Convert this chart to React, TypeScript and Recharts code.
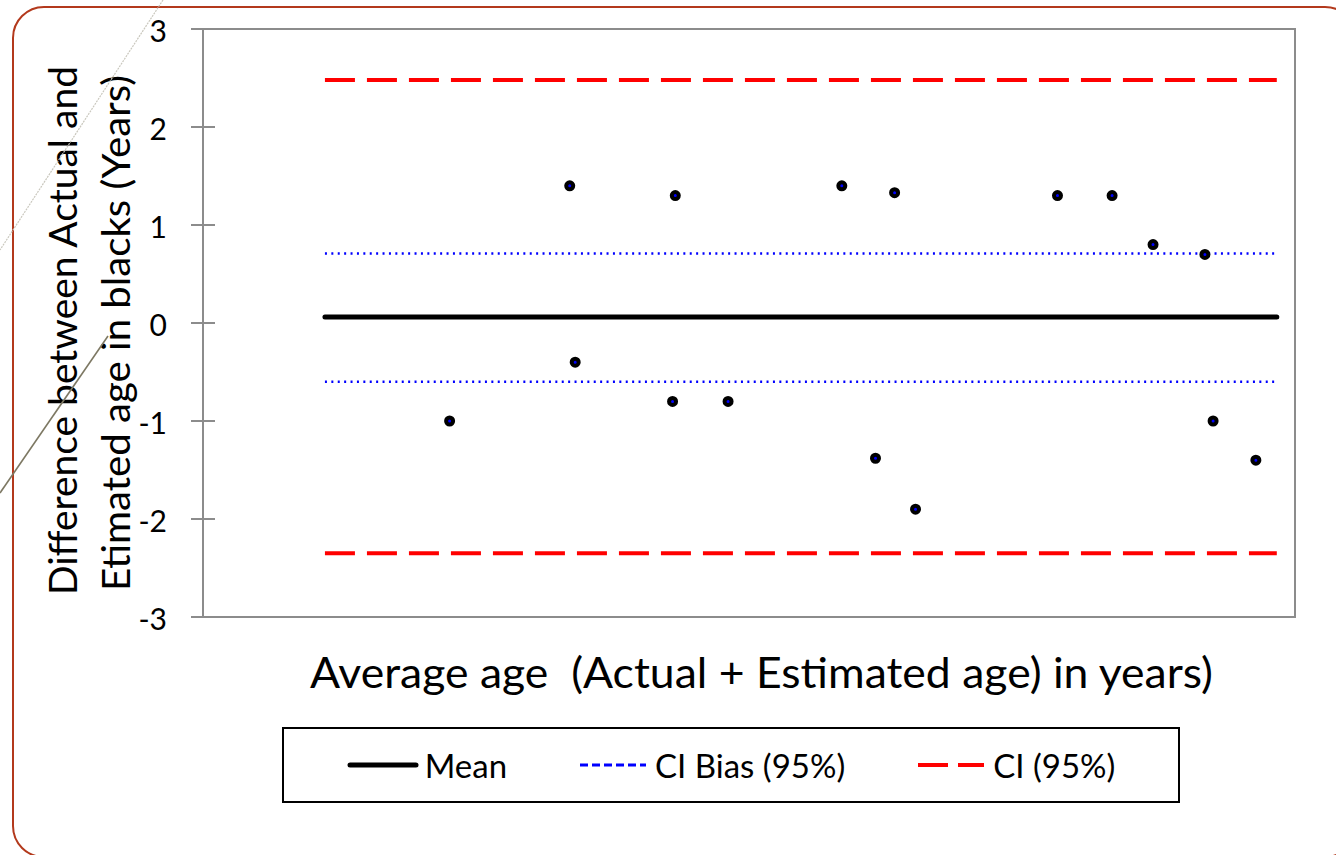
import React from 'react';
import { ComposedChart, Line, Scatter, XAxis, YAxis, Legend, ReferenceArea } from 'recharts';

// average age (x) and difference actual - estimated (y), one entry per subject
const avgAge = [10.71, 12.03, 12.09, 13.19, 13.16, 13.77, 15.02, 15.39, 15.6, 15.83, 17.39, 17.99, 18.44, 19.01, 19.1, 19.57];
const diffAge = [-1.0, 1.4, -0.4, 1.3, -0.8, -0.8, 1.4, -1.38, 1.33, -1.9, 1.3, 1.3, 0.8, 0.7, -1.0, -1.4];

const yTicks = [-3, -2, -1, 0, 1, 2, 3];
const xDomain = [8, 20];
const lineRange = [9.34, 19.8];
const meanDiff = [0.06];
const biasLimits = [0.71, -0.6];
const ciLimits = [2.48, -2.35];

const FONT = 'Lato, "Open Sans", sans-serif';
const AXIS_GRAY = '#8c8c8c';

const points = avgAge.map((x, i) => ({ x, y: diffAge[i] }));

// horizontal levels drawn between lineRange, broken by a null row
function levelRows(levels: number[]) {
  const rows: { x: number; y: number | null }[] = [];
  levels.forEach((lv, i) => {
    if (i > 0) rows.push({ x: lineRange[1], y: null });
    rows.push({ x: lineRange[0], y: lv }, { x: lineRange[1], y: lv });
  });
  return rows;
}

const legendOrder = ['Mean', 'CI Bias (95%)', 'CI (95%)'];
const legendSamples: Record<string, { stroke: string; width: number; dash?: string; cap?: 'round' | 'butt' }> = {
  Mean: { stroke: '#000', width: 5, cap: 'round' },
  'CI Bias (95%)': { stroke: '#0000ff', width: 3, dash: '8 4' },
  'CI (95%)': { stroke: '#ff0000', width: 4, dash: '30 10' },
};

function YTick(props: any) {
  const { x, y, payload } = props;
  const ax = x + 12;
  return (
    <g>
      <line x1={ax - 12} x2={ax + 12} y1={y} y2={y} stroke={AXIS_GRAY} strokeWidth={2} />
      <text x={ax - 36} y={y + 1} textAnchor="end" dominantBaseline="central" fontSize={30} fill="#000" fontFamily={FONT}>
        {payload.value}
      </text>
    </g>
  );
}

function Dot(props: any) {
  const { cx, cy } = props;
  return <circle cx={cx} cy={cy} r={3.5} fill="#0000ff" stroke="#000" strokeWidth={4} />;
}

function YTitle() {
  return (
    <g fontFamily={FONT} fontSize={38} fill="#000">
      <text transform="translate(77, 330.5) rotate(-90)" textAnchor="middle" textLength={529} lengthAdjust="spacingAndGlyphs">
        Difference between Actual and
      </text>
      <text transform="translate(130, 333) rotate(-90)" textAnchor="middle" textLength={516} lengthAdjust="spacingAndGlyphs">
        Etimated age in blacks (Years)
      </text>
    </g>
  );
}

function XTitle() {
  return (
    <text x={761.5} y={688} textAnchor="middle" fontFamily={FONT} fontSize={43} fill="#000" textLength={903} lengthAdjust="spacingAndGlyphs">
      {'Average age\u00a0 (Actual + Estimated age) in years)'}
    </text>
  );
}

function LegendBox(props: any) {
  const items = (props.payload || [])
    .filter((p: any) => legendSamples[p.value])
    .sort((a: any, b: any) => legendOrder.indexOf(a.value) - legendOrder.indexOf(b.value));
  return (
    <div
      style={{
        boxSizing: 'border-box',
        width: 898,
        height: 76,
        border: '2px solid #000',
        display: 'flex',
        alignItems: 'center',
        justifyContent: 'center',
        gap: 70,
        fontFamily: FONT,
        fontSize: 33,
        color: '#000',
      }}
    >
      {items.map((p: any) => {
        const s = legendSamples[p.value];
        return (
          <div key={p.value} style={{ display: 'flex', alignItems: 'center' }}>
            <svg width={72} height={12} style={{ marginRight: 6 }}>
              <line x1={3} x2={69} y1={6} y2={6} stroke={s.stroke} strokeWidth={s.width} strokeDasharray={s.dash} strokeLinecap={s.cap || 'butt'} />
            </svg>
            <span style={{ lineHeight: 1 }}>{p.value}</span>
          </div>
        );
      })}
    </div>
  );
}

export default function App() {
  return (
    <div style={{ position: 'absolute', left: 0, top: 0, width: 1336, height: 855, overflow: 'hidden', background: '#fff', fontFamily: FONT }}>
      <div
        style={{
          position: 'absolute',
          left: 12,
          top: 6,
          width: 1345,
          height: 852,
          boxSizing: 'border-box',
          border: '2.5px solid #b3391c',
          borderRadius: 32,
        }}
      />
      <div style={{ position: 'absolute', left: 0, top: 0 }}>
        <ComposedChart width={1336} height={855} margin={{ top: 29, right: 41, bottom: 0, left: 0 }}>
          <XAxis
            dataKey="x"
            type="number"
            domain={xDomain}
            allowDataOverflow
            tick={false}
            tickLine={false}
            axisLine={false}
            height={238}
            label={{ content: () => <XTitle /> }}
          />
          <YAxis
            dataKey="y"
            type="number"
            domain={[-3, 3]}
            ticks={yTicks}
            interval={0}
            width={203}
            tickSize={12}
            tickMargin={0}
            tickLine={false}
            axisLine={{ stroke: AXIS_GRAY, strokeWidth: 2 }}
            tick={<YTick />}
            label={{ content: () => <YTitle /> }}
          />
          <ReferenceArea x1={xDomain[0]} x2={xDomain[1]} y1={-3} y2={3} fill="none" stroke={AXIS_GRAY} strokeWidth={2} />
          <Line
            data={levelRows(meanDiff)}
            dataKey="y"
            name="Mean"
            stroke="#000"
            strokeWidth={5}
            strokeLinecap="round"
            dot={false}
            activeDot={false}
            isAnimationActive={false}
          />
          <Line
            data={levelRows(biasLimits)}
            dataKey="y"
            name="CI Bias (95%)"
            stroke="#0000ff"
            strokeWidth={2.5}
            strokeDasharray="2 4.4"
            dot={false}
            activeDot={false}
            isAnimationActive={false}
          />
          <Line
            data={levelRows(ciLimits)}
            dataKey="y"
            name="CI (95%)"
            stroke="#ff0000"
            strokeWidth={4}
            strokeDasharray="30 12"
            dot={false}
            activeDot={false}
            isAnimationActive={false}
          />
          <Scatter data={points} shape={<Dot />} legendType="none" isAnimationActive={false} />
          <Legend
            layout="horizontal"
            verticalAlign="middle"
            align="center"
            content={<LegendBox />}
            wrapperStyle={{ left: 282, top: 727, width: 898, height: 76 }}
          />
        </ComposedChart>
      </div>
      <svg width={1336} height={855} style={{ position: 'absolute', left: 0, top: 0, pointerEvents: 'none' }}>
        <line x1={163} y1={0} x2={0} y2={250} stroke="#c9c7bd" strokeWidth={1.2} strokeDasharray="2 1" />
        <line x1={108} y1={336} x2={0} y2={493} stroke="#7d7863" strokeWidth={1.6} />
      </svg>
    </div>
  );
}
